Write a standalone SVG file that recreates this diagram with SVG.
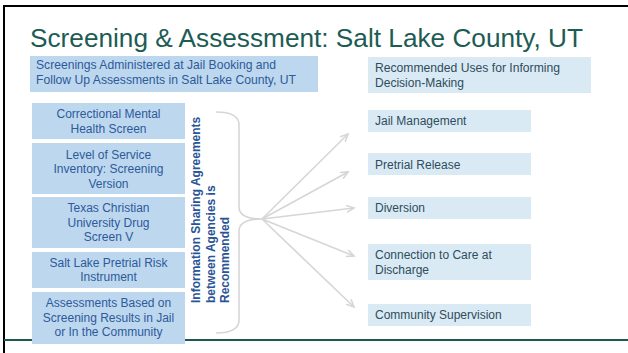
<svg xmlns="http://www.w3.org/2000/svg" width="628" height="353" viewBox="0 0 628 353">
<defs>
<style>
.t{font-family:"Liberation Sans",Arial,sans-serif}
.lb{fill:#bdd7ee}
.rb{fill:#daeaf4}
.lt{font-size:12px;fill:#2d5a9b;text-anchor:middle}
.rt{font-size:12px;fill:#2f4c5c}
.vt{font-size:12px;font-weight:bold;fill:#2a5496}
.conn{stroke:#d6d6d6;stroke-width:1.6;fill:none}
</style>
<marker id="ah" markerWidth="10" markerHeight="10" refX="8" refY="4" orient="auto" markerUnits="userSpaceOnUse">
<path d="M0.5,0.5 L8,4 L0.5,7.5" fill="none" stroke="#d6d6d6" stroke-width="1.6"/>
</marker>
</defs>
<rect x="0" y="0" width="628" height="353" fill="#ffffff"/>
<path d="M4,353 L4,6 L628,6" fill="none" stroke="#000000" stroke-width="2"/>
<line x1="4" y1="340" x2="628" y2="340" stroke="#1b5a52" stroke-width="2"/>
<text id="title" class="t" x="30" y="46.5" font-size="25" fill="#1d5c55" textLength="553" lengthAdjust="spacingAndGlyphs">Screening &amp; Assessment: Salt Lake County, UT</text>
<g id="left-header">
<rect class="lb" x="30" y="56" width="288" height="36"/>
<text class="t" x="36" y="69" font-size="13" fill="#2d5a9b" textLength="240" lengthAdjust="spacingAndGlyphs">Screenings Administered at Jail Booking and</text>
<text class="t" x="36" y="83.5" font-size="13" fill="#2d5a9b" textLength="260" lengthAdjust="spacingAndGlyphs">Follow Up Assessments in Salt Lake County, UT</text>
</g>
<g id="right-header">
<rect class="rb" x="368" y="57" width="223" height="36"/>
<text class="t" x="375" y="72" font-size="13" fill="#2f4c5c" textLength="185" lengthAdjust="spacingAndGlyphs">Recommended Uses for Informing</text>
<text class="t" x="375" y="86.5" font-size="13" fill="#2f4c5c" textLength="89" lengthAdjust="spacingAndGlyphs">Decision-Making</text>
</g>
<g id="box-cmhs">
<rect class="lb" x="32" y="103" width="153" height="36"/>
<text class="t lt" x="108.5" y="118">Correctional Mental</text>
<text class="t lt" x="108.5" y="132.5">Health Screen</text>
</g>
<g id="box-lsi">
<rect class="lb" x="32" y="143" width="153" height="51"/>
<text class="t lt" x="108.5" y="158.5">Level of Service</text>
<text class="t lt" x="108.5" y="173">Inventory: Screening</text>
<text class="t lt" x="108.5" y="187.5">Version</text>
</g>
<g id="box-tcu">
<rect class="lb" x="32" y="197" width="153" height="51"/>
<text class="t lt" x="108.5" y="212">Texas Christian</text>
<text class="t lt" x="108.5" y="226.5">University Drug</text>
<text class="t lt" x="108.5" y="241">Screen V</text>
</g>
<g id="box-slpri">
<rect class="lb" x="32" y="252" width="153" height="36"/>
<text class="t lt" x="108.5" y="266.5">Salt Lake Pretrial Risk</text>
<text class="t lt" x="108.5" y="281">Instrument</text>
</g>
<g id="box-assess">
<rect class="lb" x="32" y="292" width="153" height="52"/>
<text class="t lt" x="108.5" y="307">Assessments Based on</text>
<text class="t lt" x="108.5" y="321.5">Screening Results in Jail</text>
<text class="t lt" x="108.5" y="336">or In the Community</text>
</g>
<g id="info-sharing">
<text class="t vt" transform="translate(200,303) rotate(-90)" x="0" y="0">Information Sharing Agreements</text>
<text class="t vt" transform="translate(214.5,303) rotate(-90)" x="0" y="0">between Agencies is</text>
<text class="t vt" transform="translate(229,303) rotate(-90)" x="0" y="0">Recommended</text>
</g>
<g id="box-jail">
<rect class="rb" x="368" y="110" width="163" height="22"/>
<text class="t rt" x="375" y="125">Jail Management</text>
</g>
<g id="box-pretrial">
<rect class="rb" x="368" y="153" width="163" height="22"/>
<text class="t rt" x="375" y="168.5">Pretrial Release</text>
</g>
<g id="box-diversion">
<rect class="rb" x="368" y="197" width="163" height="22"/>
<text class="t rt" x="375" y="212">Diversion</text>
</g>
<g id="box-connection">
<rect class="rb" x="368" y="244" width="163" height="36"/>
<text class="t rt" x="375" y="258.5">Connection to Care at</text>
<text class="t rt" x="375" y="273.5">Discharge</text>
</g>
<g id="box-community">
<rect class="rb" x="368" y="304" width="163" height="22"/>
<text class="t rt" x="375" y="318.5">Community Supervision</text>
</g>
<g id="connectors">
<path class="conn" d="M216,112 Q239,112 239,125 L239,207 Q239,219 262,219 Q239,219 239,231 L239,320 Q239,333 216,333"/>
<line class="conn" x1="262" y1="219" x2="348" y2="134" marker-end="url(#ah)"/>
<line class="conn" x1="262" y1="219" x2="348" y2="172" marker-end="url(#ah)"/>
<line class="conn" x1="262" y1="219" x2="354" y2="208" marker-end="url(#ah)"/>
<line class="conn" x1="262" y1="219" x2="354" y2="256" marker-end="url(#ah)"/>
<line class="conn" x1="262" y1="219" x2="354" y2="307" marker-end="url(#ah)"/>
</g>
</svg>
